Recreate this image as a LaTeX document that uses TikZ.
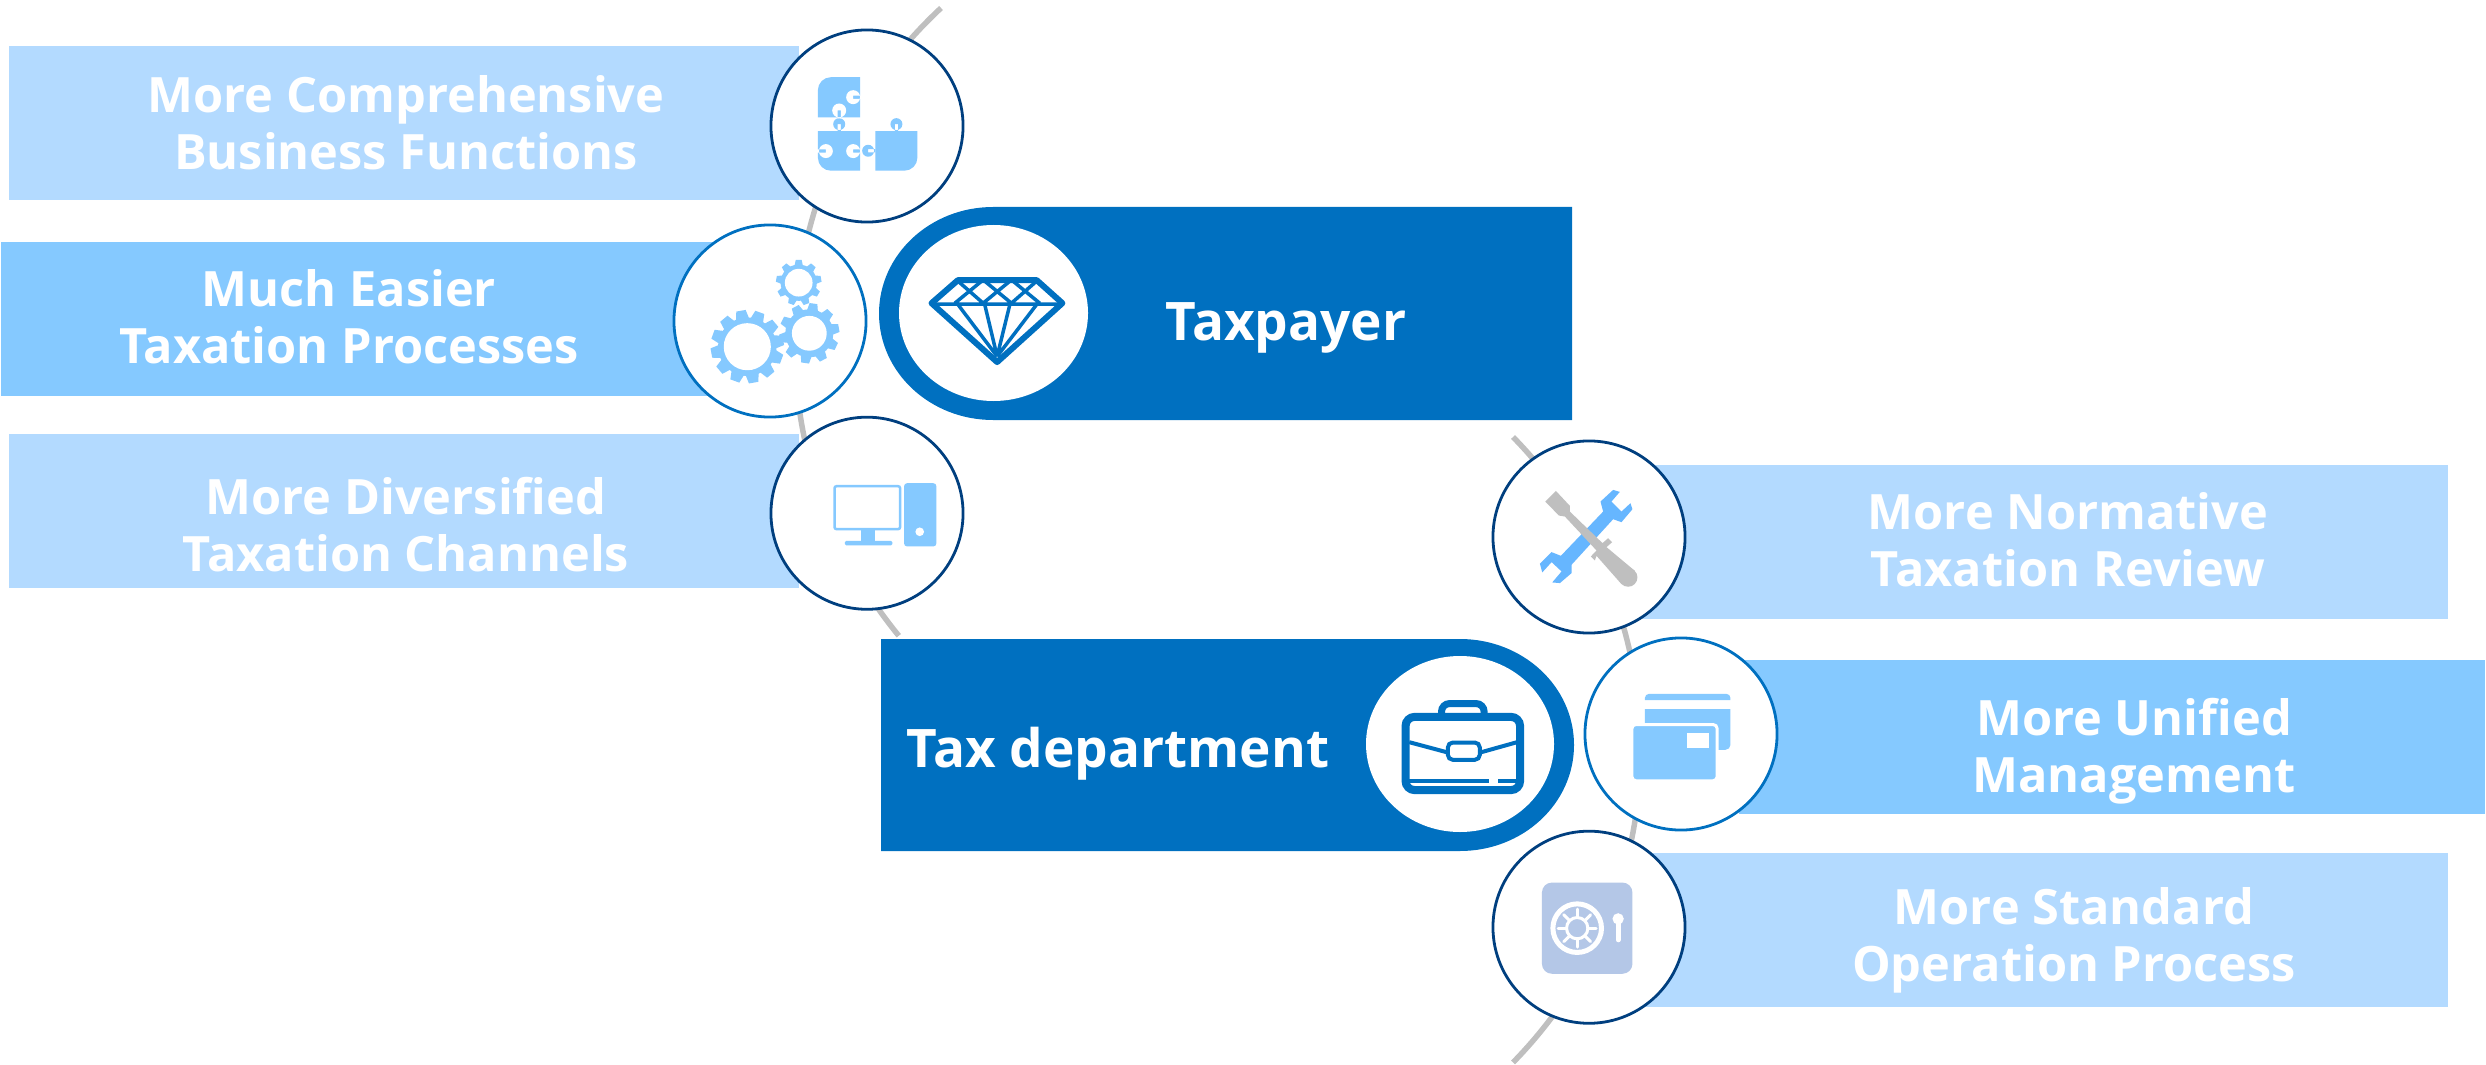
\documentclass[tikz,border=0pt]{standalone}
\usepackage{fontspec}
\setmainfont{Open Sans}
\usepackage{tikz}
\usetikzlibrary{positioning}
\definecolor{lightband}{HTML}{B3DAFF}
\definecolor{midband}{HTML}{85C9FF}
\definecolor{darkband}{HTML}{0070C0}
\definecolor{navyring}{HTML}{003F7F}
\definecolor{toolblue}{HTML}{66B6FF}
\definecolor{toolgray}{HTML}{BFBFBF}
\definecolor{safeblue}{HTML}{B4C7E7}
\tikzset{
  band/.style={rectangle, inner sep=0pt, minimum height=1.54cm, fill=#1},
  bandtext/.style={text=white, align=center, inner sep=0pt, font=\fontsize{13.85}{16.2}\selectfont\bfseries},
  headtext/.style={text=white, inner sep=0pt, font=\fontsize{15.1}{18}\selectfont\bfseries},
  iconring/.style={circle, draw=#1, line width=0.028cm, fill=white, minimum size=1.92cm, inner sep=0pt},
  grayarc/.style={draw=toolgray, line width=0.055cm},
  iconbox/.style={shift={(#1)}, x=0.003333cm, y=-0.003333cm},
}
% x, y, outer radius, hole radius, teeth
\newcommand{\gearicon}[5]{
  \begin{scope}[shift={(#1,#2)}, x=#3*0.01cm, y=#3*0.01cm]
    \fill[midband] (0,0) circle[radius=0.8];
    \foreach \k in {1,...,#5}
      \fill[midband, rotate=\k*360/#5+10] (0.72,-0.19) -- (1,-0.13) -- (1,0.13) -- (0.72,0.19) -- cycle;
    \fill[white] (0,0) circle[radius=#4];
  \end{scope}
}
\begin{document}
\begin{tikzpicture}[x=0.01cm,y=-0.01cm,on grid]
	\useasboundingbox (0,0) rectangle (2486,1064);

	% the two gray arcs behind everything
	\coordinate (lefttop) at (941,8);
	\coordinate (righttop) at (1513,437);
	\draw[grayarc] (lefttop) arc[start angle=227,end angle=140.7,radius=460];
	\draw[grayarc] (righttop) arc[start angle=-44.4,end angle=44.4,radius=447];

	% bands
	\node[band=lightband, minimum width=7.9cm, anchor=west] (comprehensiveband) at (8,123) {};
	\node[band=midband, minimum width=7.5cm, anchor=west] (easierband) at (0,319) {};
	\node[band=lightband, minimum width=7.9cm, anchor=west] (diversifiedband) at (8,511) {};
	\node[band=lightband, minimum width=8.1cm, anchor=east] (normativeband) at (2449,542) {};
	\node[band=midband, minimum width=7.46cm, anchor=east] (unifiedband) at (2486,737) {};
	\node[band=lightband, minimum width=8.1cm, anchor=east] (standardband) at (2449,930) {};

	\fill[darkband] (993,420) arc[start angle=90,end angle=270,x radius=114,y radius=106.5] -- (1572,207) -- (1572,420) -- cycle;
	\fill[darkband] (1460,639) arc[start angle=-90,end angle=90,x radius=114,y radius=106] -- (881,851) -- (881,639) -- cycle;
	\fill[white] (993.5,313) ellipse[x radius=94.5,y radius=88];
	\fill[white] (1460,744) ellipse[x radius=94,y radius=88];

	% circles
	\node[iconring=navyring] (functions) at (867,126) {};
	\node[iconring=navyring] (channels) [below=3.87cm of functions] {};
	\node[iconring=darkband] (processes) at (770,321) {};
	\node[iconring=navyring] (review) at (1589,537) {};
	\node[iconring=navyring] (operation) [below=3.9cm of review] {};
	\node[iconring=darkband] (management) at (1681,734) {};

	% texts
	\node[bandtext] (comprehensive) at (406,123) {More Comprehensive\\Business Functions};
	\node[bandtext] (easier) at (349,317) {Much Easier\\Taxation Processes};
	\node[bandtext] (diversified) at (406,525) {More Diversified\\Taxation Channels};
	\node[bandtext] (normative) at (2068,540) {More Normative\\Taxation Review};
	\node[bandtext] (unified) at (2134,751) {More Unified\\Management};
	\node[bandtext] (standard) at (2074,940) {More Standard\\Operation Process};
	\node[headtext] (taxpayer) at (1286,328) {Taxpayer};
	\node[headtext] (department) at (1118,754) {Tax department};

	% puzzle
	\begin{scope}[iconbox={740,0}]
		\fill[midband] (234,353) [rounded corners=0.13cm] -- (234,232) [sharp corners] -- (361,232) -- (361,353) -- cycle;
		\fill[midband] (234,394) [rounded corners=0.13cm] -- (234,513) [sharp corners] -- (361,513) -- (361,394) -- cycle;
		\fill[midband] (407,394) -- (407,513) [rounded corners=0.13cm] -- (533,513) [sharp corners] -- (533,394) -- cycle;
		\fill[midband] (298,373) circle[radius=18] (293,373) rectangle (303,394);
		\fill[midband] (470,373) circle[radius=18] (465,373) rectangle (475,394);
		\fill[midband] (385,453) circle[radius=18] (385,448) rectangle (407,458);
		\fill[white] (340,292) circle[radius=21] (340,287) rectangle (365,297);
		\fill[white] (298,332) circle[radius=21] (293,332) rectangle (303,356);
		\fill[white] (258,454) circle[radius=21] (230,449) rectangle (258,459);
		\fill[white] (340,454) circle[radius=21] (340,449) rectangle (365,459);
	\end{scope}

	% gears
	\gearicon{747.3}{346.7}{36.5}{0.645}{12}
	\gearicon{809.3}{333.3}{30}{0.58}{10}
	\gearicon{798.7}{282.7}{22.7}{0.61}{9}

	% monitor
	\begin{scope}[iconbox={740,400}]
		\draw[midband, line width=0.025cm, rounded corners=0.02cm] (284,259) rectangle (481,388);
		\fill[midband] (365,392) rectangle (407,425);
		\fill[midband, rounded corners=0.015cm] (315,423) rectangle (458,437);
		\fill[midband, rounded corners=0.03cm] (493,250) rectangle (590,440);
		\fill[white] (540,396) circle[radius=13];
	\end{scope}

	% diamond
	\begin{scope}[iconbox={860,200}]
		\draw[darkband, line width=0.06cm, line join=round] (294,241) -- (531,241) -- (608,310) -- (412,487) -- (215,310) -- cycle;
		\draw[darkband, line width=0.035cm] (215,313) -- (608,313)
			(290,240) -- (370,310) (370,240) -- (285,310)
			(370,240) -- (455,310) (455,240) -- (370,310)
			(455,240) -- (540,310) (535,240) -- (455,310)
			(295,315) -- (412,470) (375,315) -- (412,470)
			(450,315) -- (412,470) (530,315) -- (412,470);
	\end{scope}

	% briefcase
	\begin{scope}[iconbox={1340,640}]
		\draw[darkband, line width=0.07cm, rounded corners=0.08cm] (305,222) -- (305,191) -- (433,191) -- (433,222);
		\draw[darkband, line width=0.08cm, rounded corners=0.09cm] (197,231) rectangle (541,451);
		\draw[darkband, line width=0.04cm, rounded corners=0.05cm] (324,308) rectangle (420,360);
		\draw[darkband, line width=0.04cm] (208,307) -- (320,337) (425,337) -- (532,307);
		\draw[darkband, line width=0.035cm] (208,423) -- (448,423) (475,423) -- (532,423);
	\end{scope}

	% tools
	\begin{scope}[iconbox={1480,430}]
		\fill[toolblue] (400,180) -- (420,186) -- (395,215) -- (425,245) -- (452,220) -- (458,238) -- (425,277) -- (400,268)
			-- (275,405) -- (275,430) -- (240,460) -- (217,458) -- (245,425) -- (215,397) -- (187,428) -- (180,402)
			-- (215,367) -- (243,378) -- (370,245) -- (362,215) -- cycle;
		\fill[toolgray] (228,183) -- (270,228) -- (270,245) -- (368,340) -- (385,325) -- (397,337) -- (380,352)
			-- (465,423) -- (425,463) -- (350,378) -- (345,392) -- (333,380) -- (350,362) -- (255,260) -- (237,257) -- (196,215) -- cycle;
		\fill[toolgray] (445,443) circle[radius=28];
	\end{scope}

	% cards
	\begin{scope}[iconbox={1580,630}]
		\fill[midband] (195,211) [rounded corners=0.04cm] -- (195,192) -- (452,192) [sharp corners] -- (452,211) -- cycle;
		\fill[midband] (195,238) -- (452,238) [rounded corners=0.05cm] -- (452,360) [sharp corners] -- (195,360) -- cycle;
		\draw[white, fill=midband, line width=0.03cm, rounded corners=0.04cm] (156,284) rectangle (412,453);
		\fill[white] (320,309) rectangle (389,354);
	\end{scope}

	% safe
	\begin{scope}[iconbox={1480,820}]
		\fill[safeblue, rounded corners=0.1cm] (186,188) rectangle (458,462);
		\draw[white, line width=0.05cm] (292,325) circle[radius=73];
		\draw[white, line width=0.03cm] (292,325) circle[radius=32];
		\foreach \k in {0,45,...,315}
			\draw[white, line width=0.03cm, line cap=round, rotate around={\k:(292,325)}] (292,293) -- (292,268);
		\fill[white] (415,297) circle[radius=17];
		\draw[white, line width=0.05cm, line cap=round] (415,297) -- (415,360);
	\end{scope}
\end{tikzpicture}
\end{document}
